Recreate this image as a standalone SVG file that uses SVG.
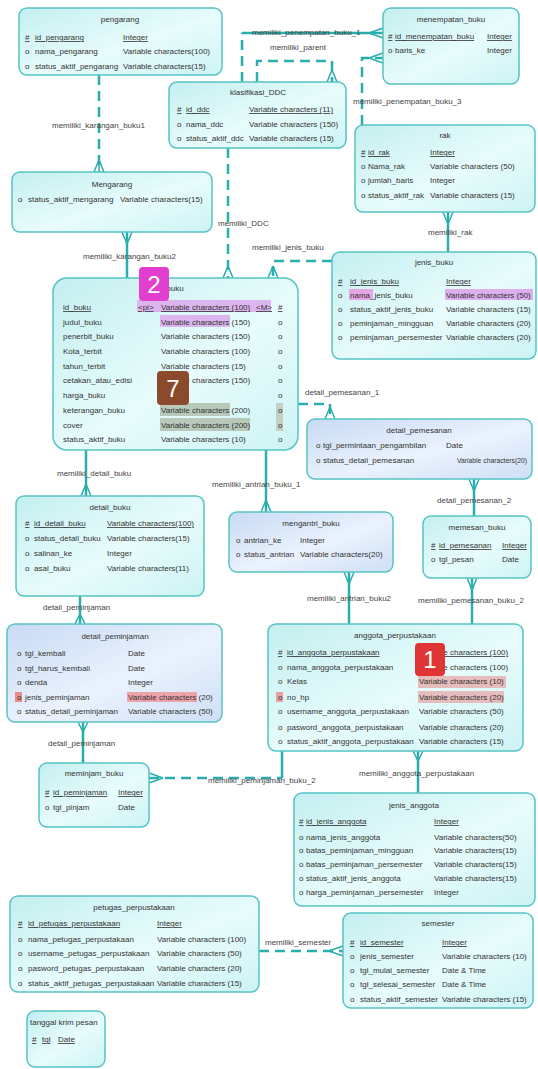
<svg xmlns="http://www.w3.org/2000/svg" width="538" height="1069" viewBox="0 0 538 1069">
<defs>
<linearGradient id="gc" x1="0" y1="0" x2="1" y2="1"><stop offset="0" stop-color="#c4eff0"/><stop offset="0.55" stop-color="#e8fcfc"/><stop offset="1" stop-color="#cdf3f4"/></linearGradient>
<linearGradient id="gb" x1="0" y1="0" x2="1" y2="1"><stop offset="0" stop-color="#c8daf4"/><stop offset="0.55" stop-color="#eaf2fd"/><stop offset="1" stop-color="#cfdff6"/></linearGradient>
<style>
text{font-family:"Liberation Sans",Arial,sans-serif;font-size:8px;fill:#333}
.m{text-anchor:middle}
.u{text-decoration:underline}
.c{fill:url(#gc);stroke:#57c3c4;stroke-width:1.5}
.b{fill:url(#gb);stroke:#57c3c4;stroke-width:1.5}
.cn{stroke:#2aadad;stroke-width:2.5;fill:none}
.d{stroke-dasharray:10 6}
.cf{stroke:#2aadad;stroke-width:1.5;fill:none}
.lb{fill:#444}
.bd{font-size:24px;fill:#fff;text-anchor:middle}
</style>
</defs>
<rect width="538" height="1069" fill="#fff"/>

<g id="connectors">
<path class="cn d" d="M99 75V172"/><path class="cf" d="M99 160L94 172M99 160L104 172M99 160V172"/>
<path class="cn" d="M127 232V278"/><path class="cf" d="M127 244L122 232M127 244L132 232"/>
<path class="cn d" d="M228 148V278"/><path class="cf" d="M228 266L223 278M228 266L233 278"/>
<path class="cn d" d="M332 261H273V278"/><path class="cf" d="M273 266L268 278M273 266L278 278"/>
<path class="cn" d="M448 212V252"/><path class="cf" d="M448 224L443 212M448 224L453 212"/>
<path class="cn d" d="M242 82V33"/><path class="cn" d="M242 33H383"/><path class="cf" d="M369 33L383 28M369 33L383 38"/>
<path class="cn d" d="M257 82V61H332V82"/><path class="cf" d="M332 70L327 82M332 70L337 82"/>
<path class="cn d" d="M362 125V58H383"/><path class="cf" d="M369 58L383 53M369 58L383 63"/>
<path class="cn d" d="M298 404H330V419"/><path class="cf" d="M330 407L325 419M330 407L335 419"/>
<path class="cn" d="M474 479V516"/><path class="cf" d="M474 491L469 479M474 491L479 479"/>
<path class="cn" d="M472 578V624"/><path class="cf" d="M472 590L467 578M472 590L477 578"/>
<path class="cn" d="M266 450V512"/><path class="cf" d="M266 500L261 512M266 500L271 512"/>
<path class="cn" d="M349 572V624"/><path class="cf" d="M349 584L344 572M349 584L354 572"/>
<path class="cn" d="M86 450V496"/><path class="cf" d="M86 484L81 496M86 484L91 496"/>
<path class="cn" d="M80 596V624"/><path class="cf" d="M80 614L75 624M80 614L85 624"/>
<path class="cn" d="M83 722V763"/><path class="cf" d="M83 732L78 722M83 732L88 722"/>
<path class="cn d" d="M149 778H282"/><path class="cn" d="M282 778V751"/><path class="cf" d="M163 778L149 773M163 778L149 783"/>
<path class="cn" d="M418 751V793"/><path class="cf" d="M418 761L413 751M418 761L423 751"/>
<path class="cn d" d="M259 951H343"/><path class="cf" d="M329 951L343 946M329 951L343 956"/>
<text class="lb" x="52" y="128">memiliki_karangan_buku1</text>
<text class="lb" x="83" y="259">memiliki_karangan_buku2</text>
<text class="lb" x="218" y="226">memiliki_DDC</text>
<text class="lb" x="252" y="250">memiliki_jenis_buku</text>
<text class="lb" x="428" y="235">memiliki_rak</text>
<text class="lb" x="252" y="35">memiliki_penempatan_buku_1</text>
<text class="lb" x="270" y="50">memiliki_parent</text>
<text class="lb" x="353" y="104">memiliki_penempatan_buku_3</text>
<text class="lb" x="305" y="395">detail_pemesanan_1</text>
<text class="lb" x="437" y="503">detail_pemesanan_2</text>
<text class="lb" x="418" y="603">memiliki_pemesanan_buku_2</text>
<text class="lb" x="212" y="487">memiliki_antrian_buku_1</text>
<text class="lb" x="307" y="601">memiliki_antrian_buku2</text>
<text class="lb" x="57" y="476">memiliki_detail_buku</text>
<text class="lb" x="43" y="610">detail_peminjaman</text>
<text class="lb" x="48" y="746">detail_peminjaman</text>
<text class="lb" x="208" y="783">memiliki_peminjaman_buku_2</text>
<text class="lb" x="359" y="776">memiliki_anggota_perpustakaan</text>
<text class="lb" x="265" y="945">memiliki_semester</text>
</g>

<g id="pengarang">
<rect class="c" x="19" y="8" width="203" height="67" rx="8"/>
<text class="m" x="120" y="22">pengarang</text>
<text class="u" x="25" y="40">#</text><text class="u" x="35" y="40">id_pengarang</text><text class="u" x="123" y="40">Integer</text>
<text x="25" y="54">o</text><text x="35" y="54">nama_pengarang</text><text x="123" y="54">Variable characters(100)</text>
<text x="25" y="69">o</text><text x="35" y="69">status_aktif_pengarang</text><text x="123" y="69">Variable characters(15)</text>
</g>

<g id="Mengarang">
<rect class="c" x="12" y="172" width="200" height="60" rx="8"/>
<text class="m" x="112" y="187">Mengarang</text>
<text x="18" y="202">o</text><text x="28" y="202">status_aktif_mengarang</text><text x="120" y="202">Variable characters(15)</text>
</g>

<g id="klasifikasi_DDC">
<rect class="c" x="169" y="82" width="177" height="66" rx="8"/>
<text class="m" x="258" y="95">klasifikasi_DDC</text>
<text class="u" x="177" y="112">#</text><text class="u" x="186" y="112">id_ddc</text><text class="u" x="249" y="112">Variable characters (11)</text>
<text x="177" y="127">o</text><text x="186" y="127">nama_ddc</text><text x="249" y="127">Variable characters (150)</text>
<text x="177" y="141">o</text><text x="186" y="141">status_aktif_ddc</text><text x="249" y="141">Variable characters (15)</text>
</g>

<g id="menempatan_buku">
<rect class="c" x="383" y="8" width="136" height="76" rx="8"/>
<text class="m" x="451" y="22">menempatan_buku</text>
<text class="u" x="388" y="39">#</text><text class="u" x="395" y="39">id_menempatan_buku</text><text class="u" x="487" y="39">Integer</text>
<text x="388" y="53">o</text><text x="395" y="53">baris_ke</text><text x="487" y="53">Integer</text>
</g>

<g id="rak">
<rect class="c" x="355" y="125" width="180" height="87" rx="8"/>
<text class="m" x="445" y="138">rak</text>
<text class="u" x="361" y="155">#</text><text class="u" x="368" y="155">id_rak</text><text class="u" x="430" y="155">Integer</text>
<text x="361" y="169">o</text><text x="368" y="169">Nama_rak</text><text x="430" y="169">Variable characters (50)</text>
<text x="361" y="183">o</text><text x="368" y="183">jumlah_baris</text><text x="430" y="183">Integer</text>
<text x="361" y="198">o</text><text x="368" y="198">status_aktif_rak</text><text x="430" y="198">Variable characters (15)</text>
</g>

<g id="jenis_buku">
<rect class="c" x="332" y="252" width="204" height="107" rx="8"/>
<rect x="349" y="289" width="24" height="11" fill="#e6a6e6"/>
<rect x="445" y="289" width="88" height="11" fill="#dcb0ee"/>
<text class="m" x="434" y="265">jenis_buku</text>
<text class="u" x="338" y="284">#</text><text class="u" x="350" y="284">id_jenis_buku</text><text class="u" x="446" y="284">Integer</text>
<text x="338" y="298">o</text><text x="350" y="298">nama_jenis_buku</text><text x="446" y="298">Variable characters (50)</text>
<text x="338" y="312">o</text><text x="350" y="312">status_aktif_jenis_buku</text><text x="446" y="312">Variable characters (15)</text>
<text x="338" y="326">o</text><text x="350" y="326">peminjaman_mingguan</text><text x="446" y="326">Variable characters (20)</text>
<text x="338" y="340">o</text><text x="350" y="340">peminjaman_persemester</text><text x="446" y="340">Variable characters (20)</text>
</g>

<g id="buku">
<rect class="c" x="53" y="278" width="245" height="172" rx="14"/>
<rect x="137" y="300" width="134" height="12" fill="#dcb4ee"/>
<rect x="160" y="315" width="70" height="12" fill="#dcb4ee"/>
<rect x="160" y="403" width="70" height="13" fill="#b9c9b9"/>
<rect x="160" y="418" width="90" height="13" fill="#b9c9b9"/>
<rect x="276" y="403" width="7" height="28" fill="#c2cfc2"/>
<text class="m" x="175" y="291">buku</text>
<text class="u" x="63" y="310">id_buku</text><text class="u" x="138" y="310">&lt;pi&gt;</text><text class="u" x="161" y="310">Variable characters (100)</text><text class="u" x="256" y="310">&lt;M&gt;</text><text class="u" x="278" y="310">#</text>
<text x="63" y="325">judul_buku</text><text x="161" y="325">Variable characters (150)</text><text x="278" y="325">o</text>
<text x="63" y="339">penerbit_buku</text><text x="161" y="339">Variable characters (150)</text><text x="278" y="339">o</text>
<text x="63" y="354">Kota_terbit</text><text x="161" y="354">Variable characters (100)</text><text x="278" y="354">o</text>
<text x="63" y="369">tahun_terbit</text><text x="161" y="369">Variable characters (15)</text><text x="278" y="369">o</text>
<text x="63" y="383">cetakan_atau_edisi</text><text x="161" y="383">Variable characters (150)</text><text x="278" y="383">o</text>
<text x="63" y="398">harga_buku</text><text x="161" y="398">Integer</text><text x="278" y="398">o</text>
<text x="63" y="413">keterangan_buku</text><text x="161" y="413">Variable characters (200)</text><text x="278" y="413">o</text>
<text x="63" y="428">cover</text><text x="161" y="428">Variable characters (200)</text><text x="278" y="428">o</text>
<text x="63" y="442">status_aktif_buku</text><text x="161" y="442">Variable characters (10)</text><text x="278" y="442">o</text>
</g>

<g id="detail_pemesanan">
<rect class="b" x="307" y="419" width="225" height="60" rx="8"/>
<text class="m" x="419" y="433">detail_pemesanan</text>
<text x="316" y="448">o</text><text x="323" y="448">tgl_permintaan_pengambilan</text><text x="446" y="448">Date</text>
<text x="316" y="463">o</text><text x="323" y="463">status_detail_pemesanan</text><text x="457" y="463" textLength="70" lengthAdjust="spacingAndGlyphs">Variable characters(20)</text>
</g>

<g id="detail_buku">
<rect class="c" x="16" y="496" width="188" height="100" rx="8"/>
<text class="m" x="110" y="510">detail_buku</text>
<text class="u" x="25" y="526">#</text><text class="u" x="34" y="526">id_detail_buku</text><text class="u" x="107" y="526">Variable characters(100)</text>
<text x="25" y="541">o</text><text x="34" y="541">status_detail_buku</text><text x="107" y="541">Variable characters(15)</text>
<text x="25" y="556">o</text><text x="34" y="556">salinan_ke</text><text x="107" y="556">Integer</text>
<text x="25" y="571">o</text><text x="34" y="571">asal_buku</text><text x="107" y="571">Variable characters(11)</text>
</g>

<g id="mengantri_buku">
<rect class="b" x="229" y="512" width="164" height="60" rx="8"/>
<text class="m" x="311" y="526">mengantri_buku</text>
<text x="236" y="543">o</text><text x="244" y="543">antrian_ke</text><text x="300" y="543">Integer</text>
<text x="236" y="557">o</text><text x="244" y="557">status_antrian</text><text x="300" y="557">Variable characters(20)</text>
</g>

<g id="memesan_buku">
<rect class="c" x="423" y="516" width="108" height="62" rx="8"/>
<text class="m" x="477" y="530">memesan_buku</text>
<text class="u" x="431" y="548">#</text><text class="u" x="439" y="548">id_pemesanan</text><text class="u" x="502" y="548">Integer</text>
<text x="431" y="562">o</text><text x="439" y="562">tgl_pesan</text><text x="502" y="562">Date</text>
</g>

<g id="detail_peminjaman">
<rect class="b" x="7" y="624" width="215" height="98" rx="8"/>
<rect x="15" y="692" width="7" height="10" fill="#e88a8a"/>
<rect x="127" y="692" width="70" height="10" fill="#eea3ab"/>
<text class="m" x="115" y="639">detail_peminjaman</text>
<text x="17" y="656">o</text><text x="25" y="656">tgl_kembali</text><text x="128" y="656">Date</text>
<text x="17" y="671">o</text><text x="25" y="671">tgl_harus_kembali</text><text x="128" y="671">Date</text>
<text x="17" y="685">o</text><text x="25" y="685">denda</text><text x="128" y="685">Integer</text>
<text x="17" y="700">o</text><text x="25" y="700">jenis_peminjaman</text><text x="128" y="700">Variable characters (20)</text>
<text x="17" y="714">o</text><text x="25" y="714">status_detail_peminjaman</text><text x="128" y="714">Variable characters (50)</text>
</g>

<g id="meminjam_buku">
<rect class="c" x="39" y="763" width="110" height="64" rx="8"/>
<text class="m" x="94" y="776">meminjam_buku</text>
<text class="u" x="45" y="795">#</text><text class="u" x="53" y="795">id_peminjaman</text><text class="u" x="118" y="795">Integer</text>
<text x="45" y="810">o</text><text x="53" y="810">tgl_pinjam</text><text x="118" y="810">Date</text>
</g>

<g id="anggota_perpustakaan">
<rect class="c" x="268" y="624" width="255" height="127" rx="8"/>
<rect x="418" y="676" width="88" height="12" fill="#e6bcbc"/>
<rect x="418" y="691" width="86" height="12" fill="#e6bcbc"/>
<rect x="276" y="692" width="7" height="10" fill="#e8a0a0"/>
<text class="m" x="395" y="638">anggota_perpustakaan</text>
<text class="u" x="278" y="655">#</text><text class="u" x="287" y="655">id_anggota_perpustakaan</text><text class="u" x="419" y="655">Variable characters (100)</text>
<text x="278" y="670">o</text><text x="287" y="670">nama_anggota_perpustakaan</text><text x="419" y="670">Variable characters (100)</text>
<text x="278" y="684">o</text><text x="287" y="684">Kelas</text><text x="419" y="684">Variable characters (10)</text>
<text x="278" y="700">o</text><text x="287" y="700">no_hp</text><text x="419" y="700">Variable characters (20)</text>
<text x="278" y="714">o</text><text x="287" y="714">username_anggota_perpustakaan</text><text x="419" y="714">Variable characters (50)</text>
<text x="278" y="730">o</text><text x="287" y="730">pasword_anggota_perpustakaan</text><text x="419" y="730">Variable characters (20)</text>
<text x="278" y="744">o</text><text x="287" y="744">status_aktif_anggota_perpustakaan</text><text x="419" y="744">Variable characters (15)</text>
</g>

<g id="jenis_anggota">
<rect class="c" x="294" y="793" width="241" height="113" rx="8"/>
<text class="m" x="414" y="808">jenis_anggota</text>
<text class="u" x="299" y="824">#</text><text class="u" x="306" y="824">id_jenis_anggota</text><text class="u" x="434" y="824">Integer</text>
<text x="299" y="840">o</text><text x="306" y="840">nama_jenis_anggota</text><text x="434" y="840">Variable characters(50)</text>
<text x="299" y="853">o</text><text x="306" y="853">batas_peminjaman_mingguan</text><text x="434" y="853">Variable characters(15)</text>
<text x="299" y="867">o</text><text x="306" y="867">batas_peminjaman_persemester</text><text x="434" y="867">Variable characters(15)</text>
<text x="299" y="881">o</text><text x="306" y="881">status_aktif_jenis_anggota</text><text x="434" y="881">Variable characters(15)</text>
<text x="299" y="895">o</text><text x="306" y="895">harga_peminjaman_persemester</text><text x="434" y="895">Integer</text>
</g>

<g id="petugas_perpustakaan">
<rect class="c" x="10" y="896" width="249" height="96" rx="8"/>
<text class="m" x="134" y="910">petugas_perpustakaan</text>
<text class="u" x="18" y="926">#</text><text class="u" x="28" y="926">id_petugas_perpustakaan</text><text class="u" x="157" y="926">Integer</text>
<text x="18" y="942">o</text><text x="28" y="942">nama_petugas_perpustakaan</text><text x="157" y="942">Variable characters (100)</text>
<text x="18" y="956">o</text><text x="28" y="956">username_petugas_perpustakaan</text><text x="157" y="956">Variable characters (50)</text>
<text x="18" y="971">o</text><text x="28" y="971">pasword_petugas_perpustakaan</text><text x="157" y="971">Variable characters (20)</text>
<text x="18" y="986">o</text><text x="28" y="986">status_aktif_petugas_perpustakaan</text><text x="157" y="986">Variable characters (15)</text>
</g>

<g id="semester">
<rect class="c" x="343" y="913" width="190" height="95" rx="8"/>
<text class="m" x="438" y="926">semester</text>
<text class="u" x="350" y="945">#</text><text class="u" x="360" y="945">id_semester</text><text class="u" x="442" y="945">Integer</text>
<text x="350" y="959">o</text><text x="360" y="959">jenis_semester</text><text x="442" y="959">Variable characters (10)</text>
<text x="350" y="973">o</text><text x="360" y="973">tgl_mulai_semester</text><text x="442" y="973">Date &amp; Time</text>
<text x="350" y="987">o</text><text x="360" y="987">tgl_selesai_semester</text><text x="442" y="987">Date &amp; Time</text>
<text x="350" y="1002">o</text><text x="360" y="1002">status_aktif_semester</text><text x="442" y="1002">Variable characters (15)</text>
</g>

<g id="tanggal_krim_pesan">
<rect class="c" x="27" y="1011" width="78" height="56" rx="8"/>
<text x="30" y="1025">tanggal krim pesan</text>
<text class="u" x="32" y="1042">#</text><text class="u" x="42" y="1042">tgl</text><text class="u" x="58" y="1042">Date</text>
</g>

<g id="badges">
<rect x="139" y="267" width="30" height="34" rx="4" fill="#e23fd0"/><text class="bd" x="154" y="293">2</text>
<rect x="157" y="371" width="32" height="34" rx="4" fill="#8b4a2b"/><text class="bd" x="173" y="397">7</text>
<rect x="415" y="643" width="30" height="33" rx="4" fill="#e03535"/><text class="bd" x="430" y="668">1</text>
</g>
</svg>
